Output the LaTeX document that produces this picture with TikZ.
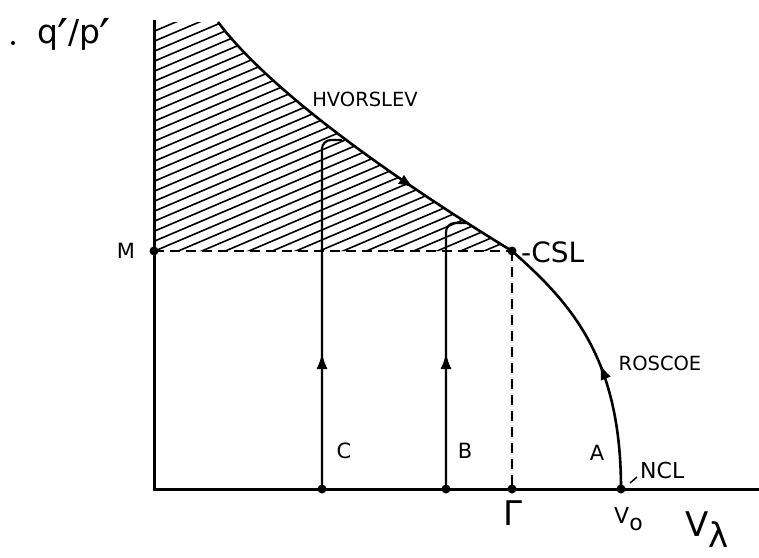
\documentclass[tikz,border=0pt]{standalone}
\usepackage{fontspec}
\setmainfont{DejaVu Sans}
\usetikzlibrary{arrows.meta,decorations.markings}
\tikzset{
  axisline/.style={line width=3pt},
  curveline/.style={line width=2.6pt},
  pathline/.style={line width=2.2pt, rounded corners=9pt},
  dashline/.style={line width=2.2pt, dash pattern=on 10pt off 6pt},
  hatchline/.style={line width=1.6pt},
  dotnode/.style={circle, fill=black, inner sep=0pt, minimum size=9pt},
  lbl/.style={inner sep=0pt, font=\fontsize{21}{21}\selectfont},
  curvelbl/.style={inner sep=0pt, font=\fontsize{19.5}{19.5}\selectfont},
  midarrow/.style={postaction={decorate}, decoration={markings,
     mark=at position #1 with {\arrow{Latex[length=16pt,width=11pt]}}}},
}
\begin{document}
\begin{tikzpicture}[x=1pt,y=-1pt]
\useasboundingbox (0,0) rectangle (759,557);
% points
\coordinate (Ytop) at (154,20);
\coordinate (O) at (154,489);
\coordinate (Xend) at (759,489);
\coordinate (H0) at (218,22);
\coordinate (Ctop) at (322,140);
\coordinate (Cend) at (342,140);
\coordinate (Btop) at (446,223);
\coordinate (Bend) at (468,223);
\coordinate (tickA) at (630,483);
\coordinate (tickB) at (637,477);
% hatching
\begin{scope}
  \clip (154,22) -- (H0) .. controls (272,94) and (401.5,183.4) .. (512,251) -- (154,251) -- cycle;
  \foreach \i in {0,...,40}
    \draw[hatchline] (150,{23+10*\i}) -- ++(420,-178.5);
\end{scope}
% axes
\draw[axisline] (Ytop) -- (O) -- (Xend);
% dots
\node[dotnode] (M) at (154,251) {};
\node[dotnode] (CSL) at (512,251) {};
\node[dotnode] (pC) at (322,489) {};
\node[dotnode] (pB) at (446,489) {};
\node[dotnode] (G) at (512,489) {};
\node[dotnode] (V0) at (621,489) {};
% dashed lines
\draw[dashline] (M.center) -- (CSL.center);
\draw[dashline] (CSL.center) -- (G.center);
% curves
\draw[curveline, midarrow=0.69] (H0) .. controls (272,94) and (401.5,183.4) .. (CSL.center);
\draw[curveline, midarrow=0.47] (V0.center) .. controls (621,359) and (572,303.8) .. (CSL.center);
% paths C and B
\draw[pathline, midarrow=136pt] (pC.center) -- (Ctop) -- (Cend);
\draw[pathline, midarrow=136pt] (pB.center) -- (Btop) -- (Bend);
% NCL tick
\draw[line width=1.4pt] (tickA) -- (tickB);
% labels
\fill (13,43) circle (2pt);
\node[inner sep=0pt, anchor=base west, font=\fontsize{33}{33}\selectfont] (qp) at (37,43) {q\kern-1pt\raisebox{-11pt}{\scalebox{1.5}{′}}/p\kern-1pt\raisebox{-11pt}{\scalebox{1.5}{′}}};
\node[lbl, anchor=base] (Ml) at (126,258) {M};
\node[inner sep=0pt, anchor=base west, font=\fontsize{28}{28}\selectfont] (CSLl) at (521,262) {-CSL};
\node[curvelbl, anchor=base] (Hl) at (365,106) {HVORSLEV};
\node[curvelbl, anchor=base] (Rl) at (660,370) {ROSCOE};
\node[lbl, anchor=base] (Cl) at (344,458) {C};
\node[lbl, anchor=base] (Bl) at (465,458) {B};
\node[lbl, anchor=base] (Al) at (597,460) {A};
\node[inner sep=0pt, anchor=base west, font=\fontsize{22}{22}\selectfont] (NCLl) at (640,478) {NCL};
\node[inner sep=0pt, anchor=base, font=\fontsize{34}{34}\selectfont] (Gl) at (513,525) {Γ};
\node[inner sep=0pt, anchor=base west, font=\fontsize{22}{22}\selectfont] (V0l) at (614,523) {V\raisebox{-7pt}{o}};
\node[inner sep=0pt, anchor=base west, font=\fontsize{34}{34}\selectfont] (Vl) at (685,536) {V\raisebox{-11pt}{λ}};
\end{tikzpicture}
\end{document}
